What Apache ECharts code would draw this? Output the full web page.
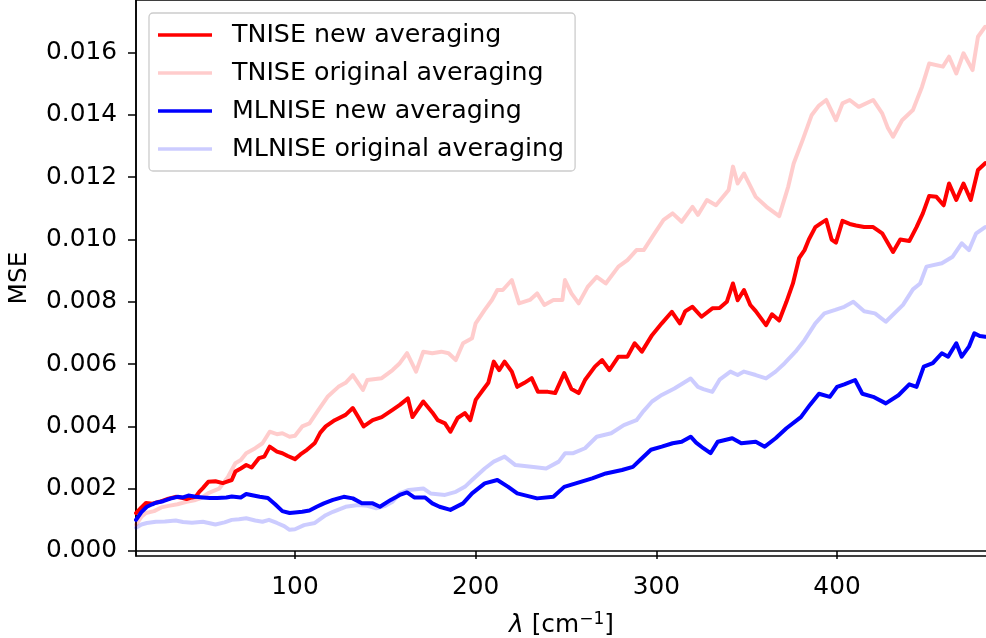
<!DOCTYPE html>
<html>
<head>
<meta charset="utf-8">
<script src="https://cdn.jsdelivr.net/npm/echarts@6/dist/echarts.min.js"></script>
<style>
html,body{margin:0;padding:0;background:#fff;}
#chart{width:986px;height:638px;}
</style>
</head>
<body>
<div id="chart"></div>
<script>
// Series names
const seriesNames = ["TNISE new averaging", "TNISE original averaging", "MLNISE new averaging", "MLNISE original averaging"];
// Tick values
const xTicks = [100, 200, 300, 400];
const yTicks = [0, 0.002, 0.004, 0.006, 0.008, 0.010, 0.012, 0.014, 0.016];

// [lambda (cm^-1), MSE]
const tniseNew = [
[12,0.00122],[15,0.00140],[17.5,0.00154],[21,0.00152],[25,0.00158],[30,0.00168],[34,0.00174],[38,0.00170],[40,0.00167],[43,0.00172],
[45,0.00174],[47,0.00190],[49,0.00202],[52,0.00222],[56,0.00224],[60,0.00218],[62,0.00222],[65,0.00228],[67,0.00255],[70,0.00265],
[73,0.00276],[76,0.00268],[80,0.00298],[83,0.00303],[86,0.00335],[90,0.00319],[93,0.00314],[96,0.00305],[100,0.00295],[103,0.00310],
[106,0.00322],[111,0.00347],[114,0.00380],[117,0.00400],[122,0.00420],[128,0.00437],[132,0.00459],[135,0.00430],[138,0.00400],[143,0.00420],
[148,0.00430],[154,0.00453],[158,0.00469],[162.5,0.00490],[165,0.00430],[171,0.00480],[176,0.00445],[179,0.00420],[183,0.00410],[186,0.00383],
[190,0.00427],[194,0.00443],[197,0.00420],[200,0.00485],[204,0.00517],[207,0.00540],[210,0.00608],[213,0.00581],[216,0.00608],[220,0.00576],
[223,0.00527],[227,0.00540],[231,0.00555],[234.5,0.00511],[240,0.00511],[244,0.00507],[249,0.00571],[253,0.00520],[257,0.00507],[260.5,0.00549],
[266,0.00592],[270,0.00613],[274,0.00581],[279,0.00624],[284,0.00624],[288,0.00667],[292,0.00640],[297.6,0.00693],[303,0.00731],[308.6,0.00768],
[313,0.00731],[316,0.00770],[320,0.00784],[325,0.00752],[331,0.00779],[335,0.00780],[339,0.00800],[342.4,0.00859],[345,0.00805],[348.5,0.00838],
[352,0.00790],[355,0.00770],[360.7,0.00725],[364,0.00760],[368,0.00740],[372,0.00800],[375.6,0.00859],[379,0.00940],[382,0.00966],[384.4,0.01000],
[388,0.01040],[391,0.01052],[394,0.01063],[397,0.01000],[399.4,0.00990],[403,0.01060],[407,0.01050],[410.5,0.01045],[415,0.01040],[420,0.01040],
[425,0.01020],[431,0.00960],[435,0.01000],[440,0.00995],[444,0.01040],[447.5,0.01084],[451,0.01140],[455,0.01137],[459,0.01110],[462,0.01180],
[466,0.01127],[470,0.01180],[474,0.01127],[478,0.01223],[482,0.01245]
];

const tniseOrig = [
[12,0.00085],[15,0.00110],[17.5,0.00122],[22,0.00128],[26,0.00140],[30,0.00145],[35,0.00150],[40,0.00158],[45,0.00164],[48,0.00170],
[52,0.00186],[58,0.00200],[63,0.00239],[67,0.00282],[70,0.00292],[73,0.00314],[78,0.00330],[82,0.00346],[86,0.00383],[90,0.00375],
[93,0.00378],[97,0.00367],[100,0.00370],[104,0.00400],[108,0.00410],[113,0.00453],[118,0.00495],[124,0.00527],[128,0.00540],[132,0.00565],
[137.6,0.00517],[140,0.00549],[148,0.00555],[154,0.00581],[158,0.00603],[162,0.00635],[167,0.00576],[171,0.00640],[176,0.00635],[181,0.00640],
[185,0.00635],[189,0.00613],[193,0.00667],[198,0.00683],[200,0.00731],[205,0.00774],[209,0.00806],[212,0.00838],[215,0.00838],[220,0.00870],
[224,0.00795],[230,0.00806],[234,0.00827],[238,0.00790],[243,0.00806],[248,0.00806],[249.4,0.00870],[253,0.00827],[257,0.00795],[262,0.00848],
[267,0.00880],[272,0.00859],[279,0.00913],[284,0.00934],[289,0.00966],[293,0.00966],[299,0.01020],[304,0.01063],[309,0.01084],[314,0.01057],
[320,0.01105],[323,0.01079],[328,0.01127],[333,0.01110],[340,0.01159],[342.4,0.01234],[345,0.01180],[348.5,0.01212],[355,0.01137],[361,0.01105],
[368,0.01075],[373,0.01170],[376,0.01244],[381,0.01320],[386,0.01400],[390,0.01430],[394,0.01448],[399.4,0.01383],[403,0.01437],[407,0.01448],
[412,0.01426],[420,0.01448],[425,0.01405],[428,0.01360],[431,0.01330],[436,0.01383],[442,0.01416],[447,0.01490],[451,0.01565],[458.6,0.01555],
[462,0.01587],[466,0.01533],[470,0.01598],[475,0.01544],[478,0.01651],[482,0.01683]
];

const mlniseNew = [
[12,0.00100],[15,0.00125],[18,0.00142],[21,0.00150],[23,0.00155],[27,0.00160],[31,0.00168],[35,0.00174],[38,0.00172],[41,0.00178],
[45,0.00174],[49,0.00172],[53,0.00170],[57,0.00170],[62,0.00172],[65,0.00175],[70,0.00172],[73,0.00183],[77,0.00178],[80.5,0.00174],
[85,0.00170],[89,0.00150],[93,0.00128],[97,0.00122],[100,0.00124],[104,0.00126],[108,0.00130],[112,0.00142],[116,0.00153],[121,0.00164],
[127,0.00174],[132,0.00169],[137,0.00153],[143,0.00153],[147,0.00142],[153,0.00164],[158,0.00180],[162,0.00188],[166,0.00172],[172,0.00172],
[176,0.00153],[180,0.00142],[186,0.00132],[193,0.00153],[198,0.00185],[205,0.00217],[212,0.00228],[218,0.00206],[223,0.00185],[234,0.00169],
[243,0.00174],[249,0.00206],[264.5,0.00233],[272,0.00249],[281,0.00260],[287,0.00270],[291,0.00292],[297,0.00325],[303,0.00335],[309,0.00346],
[314,0.00351],[319,0.00367],[322,0.00348],[326,0.00330],[330,0.00314],[334,0.00351],[342,0.00362],[347,0.00346],[355,0.00351],[360,0.00335],
[366,0.00362],[372,0.00394],[380,0.00430],[385,0.00469],[390,0.00505],[396,0.00495],[400,0.00527],[404,0.00535],[410,0.00549],[414,0.00505],
[420,0.00495],[427,0.00474],[434,0.00500],[440,0.00535],[444,0.00527],[448,0.00592],[453,0.00603],[458,0.00635],[461.5,0.00624],[466,0.00667],
[469,0.00624],[473,0.00656],[476,0.00699],[479,0.00690],[482,0.00688]
];

const mlniseOrig = [
[12,0.00075],[15,0.00085],[18,0.00090],[23,0.00094],[28,0.00095],[34,0.00098],[38,0.00093],[43,0.00091],[49,0.00094],[56,0.00085],
[61,0.00092],[65,0.00100],[69,0.00102],[73,0.00105],[78,0.00098],[82,0.00094],[85.6,0.00100],[90,0.00090],[94,0.00080],[97,0.00068],
[100,0.00070],[105,0.00083],[111,0.00090],[117,0.00115],[121,0.00126],[128,0.00142],[135,0.00148],[140,0.00145],[145,0.00137],[150,0.00145],
[154,0.00158],[158,0.00185],[163,0.00196],[171,0.00201],[175,0.00185],[183,0.00180],[189,0.00190],[194,0.00206],[198,0.00228],[205,0.00265],
[210,0.00287],[216,0.00303],[222,0.00276],[232,0.00270],[239,0.00265],[246,0.00287],[249.5,0.00314],[254,0.00314],[260.5,0.00330],[267,0.00367],
[275,0.00378],[282,0.00404],[289,0.00420],[293,0.00450],[297.6,0.00480],[303,0.00501],[310,0.00522],[319,0.00554],[323,0.00527],[326,0.00520],
[331,0.00511],[335,0.00550],[341,0.00576],[345,0.00565],[348.5,0.00576],[355,0.00565],[360.7,0.00554],[366,0.00576],[371,0.00603],[377,0.00640],
[382,0.00677],[388,0.00731],[393,0.00763],[399,0.00774],[404,0.00784],[409,0.00800],[415,0.00770],[421,0.00763],[427,0.00736],[436.5,0.00790],
[442,0.00840],[446,0.00859],[449.5,0.00913],[458,0.00924],[464,0.00945],[469,0.00988],[473,0.00966],[477,0.01020],[482,0.01040]
];

const seriesData = [tniseNew, tniseOrig, mlniseNew, mlniseOrig];
const colors = ['#ff0000', 'rgba(255,0,0,0.2)', '#0000ff', 'rgba(0,0,255,0.2)'];

const FONT = 'DejaVu Sans';
const FS = 24.8;
const LFS = 25.3;

const chart = echarts.init(document.getElementById('chart'), null, {renderer: 'canvas'});
chart.setOption({
  animation: false,
  backgroundColor: '#fff',
  grid: {
    left: 136, top: 0, right: -1, bottom: 82,
    containLabel: false, outerBoundsMode: 'none',
    show: true, borderColor: '#000', borderWidth: 1.5, backgroundColor: 'transparent'
  },
  legend: {
    orient: 'vertical', left: 149, top: 13,
    icon: 'rect', itemWidth: 54, itemHeight: 3.4, itemGap: 10,
    padding: [8, 11, 8, 9],
    backgroundColor: 'rgba(255,255,255,0.8)', borderColor: '#cccccc', borderWidth: 1.3, borderRadius: 4,
    textStyle: {fontFamily: FONT, fontSize: LFS, color: '#000', lineHeight: 28, padding: [0,0,0,15]},
    data: seriesNames
  },
  xAxis: {
    type: 'value', min: 12, max: 483,
    name: '{i|λ} [cm{sup|−1}]', nameLocation: 'middle', nameGap: 55,
    nameTextStyle: {fontFamily: FONT, fontSize: FS, color: '#000', lineHeight: 30,
      rich: {
        i: {fontFamily: FONT, fontSize: FS, fontStyle: 'italic', color: '#000', lineHeight: 30},
        sup: {fontFamily: FONT, fontSize: 17, color: '#000', verticalAlign: 'top', lineHeight: 17}
      }},
    axisLine: {show: true, lineStyle: {color: '#000', width: 1.5}},
    axisTick: {show: true, inside: false, length: 8, lineStyle: {color: '#000', width: 1.5}, customValues: xTicks},
    axisLabel: {show: true, fontFamily: FONT, fontSize: FS, color: '#000', margin: 19, customValues: xTicks,
      formatter: v => String(v)},
    splitLine: {show: false}
  },
  yAxis: {
    type: 'value', min: -0.00016, max: 0.01769,
    name: 'MSE', nameLocation: 'middle', nameGap: 104, nameRotate: 90,
    nameTextStyle: {fontFamily: FONT, fontSize: FS, color: '#000'},
    axisLine: {show: true, lineStyle: {color: '#000', width: 1.5}},
    axisTick: {show: true, inside: false, length: 8, lineStyle: {color: '#000', width: 1.5}, customValues: yTicks},
    axisLabel: {show: true, fontFamily: FONT, fontSize: FS, color: '#000', margin: 19, customValues: yTicks,
      formatter: v => v.toFixed(3)},
    splitLine: {show: false}
  },
  series: seriesNames.map((n, i) => ({
    name: n, type: 'line', data: seriesData[i], showSymbol: false, symbol: 'none',
    lineStyle: {color: colors[i], width: 4, join: 'round', cap: 'round'},
    itemStyle: {color: colors[i]},
    z: 2 + i, clip: true
  }))
});
</script>
</body>
</html>
